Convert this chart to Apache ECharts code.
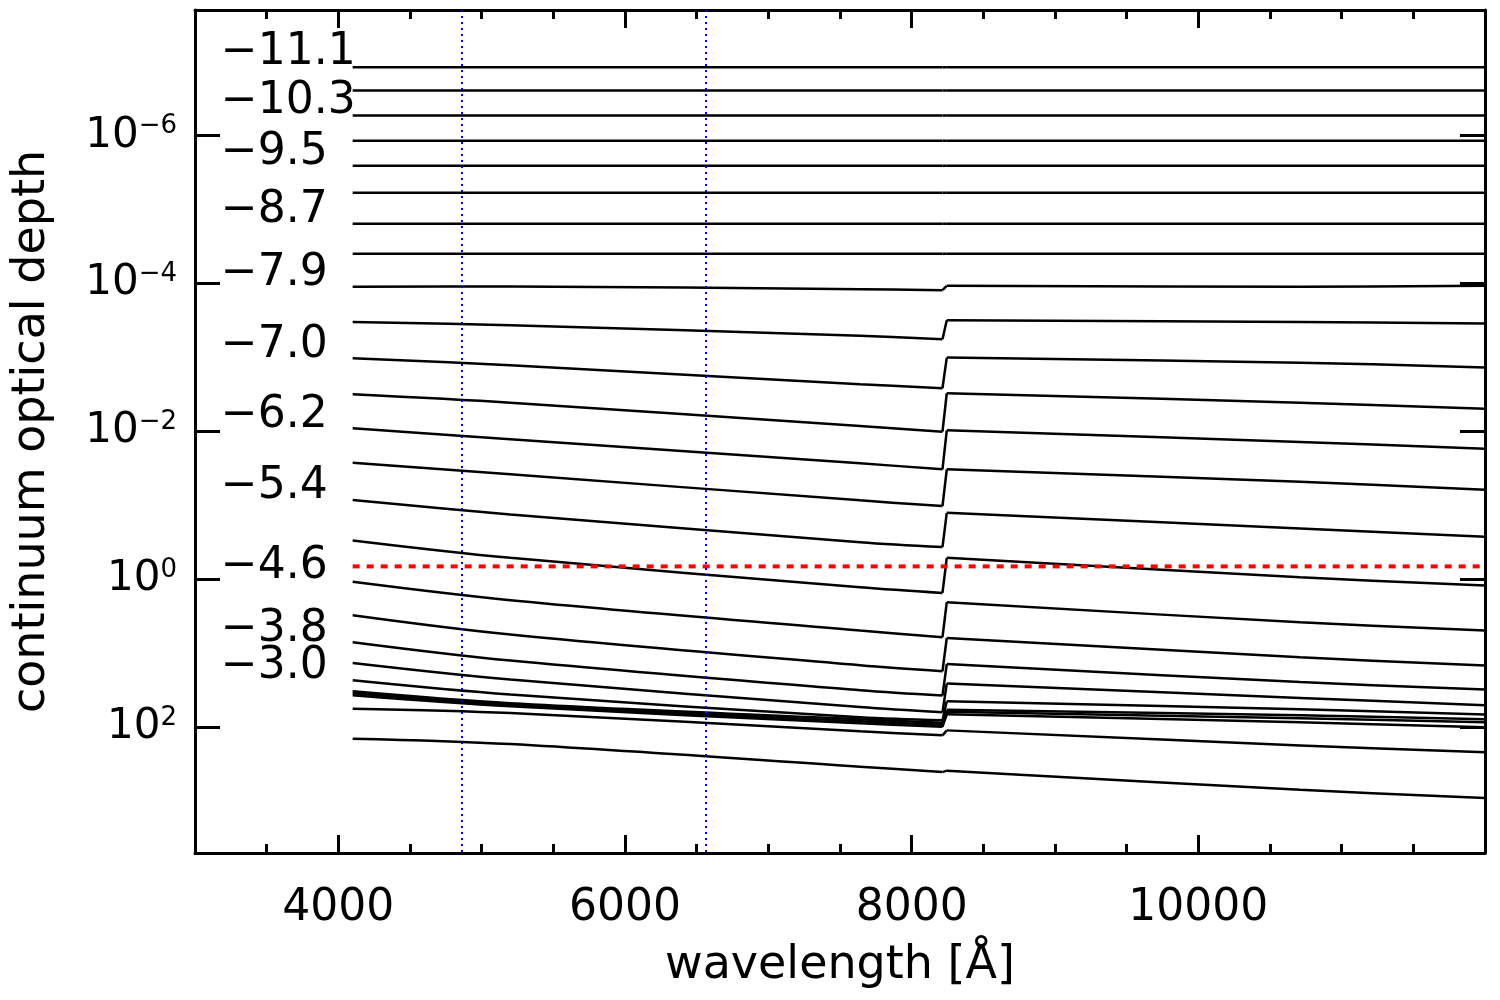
<!DOCTYPE html>
<html>

<head>
    <meta http-equiv="Content-Type" content="text/html; charset=utf-8" />
    <title>continuum optical depth</title>
    <script src="https://cdn.jsdelivr.net/npm/echarts@6/dist/echarts.min.js"></script>
    <style>
        html, body { margin: 0; padding: 0; background: #fff; }
        #div1 { width: 1500px; height: 1000px; }
    </style>
</head>

<body>

    <div id="div1"></div>
    <script type="text/javascript">
        // wavelengths [A] where each depth curve is read; 8215 / 8245 sit on both sides of the Paschen jump
        var wave = [4100, 5200, 7640, 8215, 8245, 10710, 12000];
        var jumpIndex = 3; // last point before the jump

        // log10 of continuum optical depth, one row per depth point (top to bottom)
        var logTau = [
            [-6.925, -6.925, -6.925, -6.925, -6.925, -6.925, -6.925],
            [-6.609, -6.609, -6.609, -6.609, -6.609, -6.609, -6.609],
            [-6.271, -6.271, -6.271, -6.271, -6.271, -6.271, -6.271],
            [-5.932, -5.932, -5.932, -5.932, -5.932, -5.932, -5.932],
            [-5.594, -5.594, -5.594, -5.594, -5.594, -5.594, -5.594],
            [-5.228, -5.228, -5.228, -5.228, -5.228, -5.228, -5.228],
            [-4.809, -4.809, -4.809, -4.809, -4.809, -4.809, -4.809],
            [-4.403, -4.403, -4.403, -4.403, -4.403, -4.403, -4.403],
            [-3.956, -3.960, -3.925, -3.911, -3.970, -3.956, -3.970],
            [-3.482, -3.438, -3.293, -3.248, -3.505, -3.482, -3.459],
            [-2.991, -2.896, -2.639, -2.585, -2.999, -2.931, -2.864],
            [-2.504, -2.390, -2.074, -1.997, -2.517, -2.390, -2.309],
            [-2.043, -1.894, -1.570, -1.488, -2.016, -1.858, -1.767],
            [-1.578, -1.421, -1.069, -0.992, -1.488, -1.320, -1.212],
            [-1.073, -0.879, -0.504, -0.437, -0.901, -0.690, -0.576],
            [-0.527, -0.292, 0.105, 0.182, -0.292, -0.030, 0.082],
            [0.033, 0.281, 0.691, 0.782, 0.308, 0.579, 0.691],
            [0.484, 0.745, 1.161, 1.242, 0.791, 1.052, 1.165],
            [0.849, 1.097, 1.499, 1.571, 1.143, 1.387, 1.490],
            [1.130, 1.354, 1.725, 1.797, 1.408, 1.603, 1.702],
            [1.364, 1.557, 1.865, 1.905, 1.648, 1.756, 1.828],
            [1.513, 1.675, 1.892, 1.939, 1.763, 1.838, 1.892],
            [1.540, 1.695, 1.919, 1.966, 1.790, 1.878, 1.932],
            [1.567, 1.716, 1.946, 1.993, 1.824, 1.932, 2.000],
            [1.747, 1.806, 2.054, 2.108, 2.041, 2.244, 2.338],
            [2.153, 2.226, 2.532, 2.605, 2.586, 2.843, 2.957]
        ];

        // depth labels written inside the plot, and where they sit
        var depthLabels = ['\u221211.1', '\u221210.3', '\u22129.5', '\u22128.7', '\u22127.9', '\u22127.0',
            '\u22126.2', '\u22125.4', '\u22124.6', '\u22123.8', '\u22123.0'];
        var labelLogTau = [-7.12, -6.46, -5.77, -4.985, -4.13, -3.165, -2.21, -1.25, -0.168, 0.672, 1.172];
        var labelWave = 3180;

        // tau = 2/3 marker and the H-beta / H-alpha wavelengths
        var tauTwoThirds = 2 / 3;
        var tauLineWave = [4100, 12000];
        var balmerWave = [4861, 6563];

        // axis ranges and ticks
        var waveMin = 3000, waveMax = 12000;
        var tauMin = 2e-8, tauMax = 5e3;
        var xMajorTicks = [4000, 6000, 8000, 10000];
        var xMinorTicks = [3500, 4500, 5000, 5500, 6500, 7000, 7500, 8500, 9000, 9500, 10500, 11000, 11500];
        var yTickExps = [-6, -4, -2, 0, 2];

        var FONT = 'DejaVu Sans';
        var yTicks = yTickExps.map(function(e) { return Math.pow(10, e); });

        var myChart = echarts.init(document.getElementById('div1'), null, { renderer: 'canvas' });

        function pts(row, from, to) {
            var out = [];
            for (var i = from; i <= to; i++) out.push([wave[i], Math.pow(10, row[i])]);
            return out;
        }

        var black = { color: '#000', width: 2.5 };
        var series = [];
        logTau.forEach(function(row) {
            // blue side, the jump itself, red side
            series.push({ type: 'line', showSymbol: false, silent: true, smooth: 0.35, lineStyle: black,
                data: pts(row, 0, jumpIndex) });
            series.push({ type: 'line', showSymbol: false, silent: true, lineStyle: black,
                data: pts(row, jumpIndex, jumpIndex + 1) });
            series.push({ type: 'line', showSymbol: false, silent: true, smooth: 0.35, lineStyle: black,
                data: pts(row, jumpIndex + 1, wave.length - 1) });
        });

        series.push({
            type: 'line',
            showSymbol: false,
            silent: true,
            z: 4,
            lineStyle: { color: '#ff0000', width: 4, type: [7, 7] },
            data: tauLineWave.map(function(w) { return [w, tauTwoThirds]; })
        });

        series.push({
            type: 'line',
            data: [],
            z: 5,
            markLine: {
                silent: true,
                symbol: 'none',
                label: { show: false },
                lineStyle: { color: '#0000ff', width: 2, type: [2, 4] },
                data: balmerWave.map(function(w) { return { xAxis: w }; })
            }
        });

        series.push({
            type: 'scatter',
            symbolSize: 0,
            silent: true,
            itemStyle: { opacity: 1 },
            label: {
                show: true,
                position: 'right',
                distance: 0,
                formatter: '{b}',
                color: '#000',
                fontFamily: FONT,
                fontSize: 44
            },
            data: depthLabels.map(function(t, i) {
                return { name: t, value: [labelWave, Math.pow(10, labelLogTau[i])] };
            })
        });

        var frameLine = { show: true, onZero: false, lineStyle: { color: '#000', width: 3 } };

        function xAx(position, ticks, len, main) {
            return {
                type: 'value',
                position: position,
                min: waveMin,
                max: waveMax,
                axisLine: main ? frameLine : { show: false },
                axisTick: { show: true, inside: true, length: len, customValues: ticks, lineStyle: { color: '#000', width: 3 } },
                axisLabel: main && position === 'bottom' ? {
                    customValues: ticks, margin: 34, color: '#000', fontFamily: FONT, fontSize: 44,
                    formatter: function(v) { return String(v); }
                } : { show: false },
                splitLine: { show: false },
                name: main && position === 'bottom' ? 'wavelength [\u00c5]' : '',
                nameLocation: 'middle',
                nameGap: 90,
                nameTextStyle: { color: '#000', fontFamily: FONT, fontSize: 46 }
            };
        }

        function yAx(position, main) {
            return {
                type: 'log',
                logBase: 10,
                position: position,
                inverse: true,
                min: tauMin,
                max: tauMax,
                axisLine: frameLine,
                axisTick: { show: true, inside: true, length: 25, customValues: yTicks, lineStyle: { color: '#000', width: 3 } },
                minorTick: { show: false },
                splitLine: { show: false },
                axisLabel: main ? {
                    customValues: yTicks,
                    margin: 18,
                    formatter: function(v) {
                        var e = Math.round(Math.log(v) / Math.LN10);
                        return '{b|10}{s|' + (e < 0 ? '\u2212' + (-e) : e) + '}';
                    },
                    rich: {
                        b: { fontFamily: FONT, fontSize: 42, color: '#000', lineHeight: 44 },
                        s: { fontFamily: FONT, fontSize: 26, color: '#000', lineHeight: 26, verticalAlign: 'top' }
                    }
                } : { show: false },
                name: main ? 'continuum optical depth' : '',
                nameLocation: 'middle',
                nameRotate: 90,
                nameGap: 140,
                nameTextStyle: { color: '#000', fontFamily: FONT, fontSize: 46 }
            };
        }

        option = {
            backgroundColor: '#fff',
            animation: false,
            grid: { left: 195, right: 15, top: 10, bottom: 147 },
            xAxis: [
                xAx('bottom', xMajorTicks, 18, true),
                xAx('bottom', xMinorTicks, 9, false),
                xAx('top', xMajorTicks, 18, true),
                xAx('top', xMinorTicks, 9, false)
            ],
            yAxis: [yAx('left', true), yAx('right', false)],
            series: series
        };
        myChart.setOption(option);
    </script>
</body>

</html>
